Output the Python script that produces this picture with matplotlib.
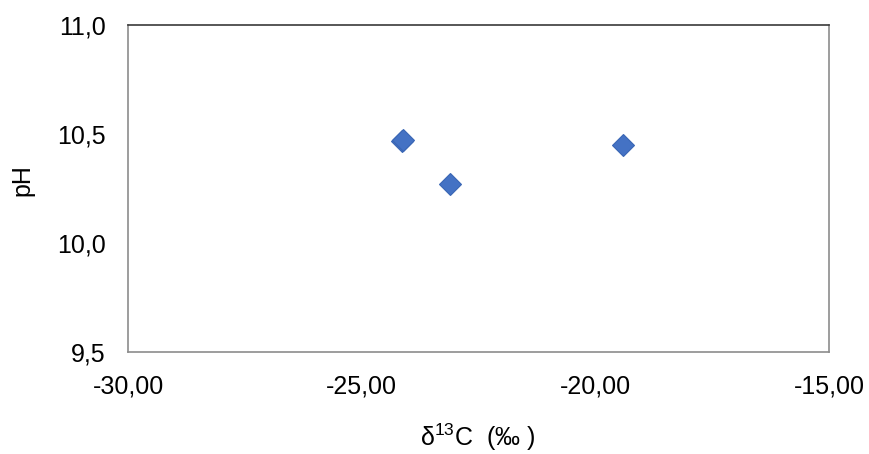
import matplotlib
matplotlib.use("Agg")
import matplotlib.pyplot as plt
from matplotlib.ticker import FixedLocator, FuncFormatter

plt.rcParams['font.family'] = ['Liberation Sans', 'DejaVu Sans']
plt.rcParams['mathtext.fontset'] = 'custom'
plt.rcParams['mathtext.rm'] = 'Liberation Sans'
plt.rcParams['mathtext.it'] = 'Liberation Sans'

# delta 13C (per mil) and pH of the samples
d13c = [-24.14, -24.12, -23.10, -19.40]
ph = [10.470, 10.474, 10.27, 10.45]

x_ticks = [-30, -25, -20, -15]
y_ticks = [9.5, 10.0, 10.5, 11.0]

fig = plt.figure(figsize=(8.69, 4.54), dpi=100)
ax = fig.add_axes([128 / 869, 102 / 454, 701 / 869, 327 / 454])

ax.plot(d13c, ph, linestyle='none', marker='D', markersize=11,
        markerfacecolor='#4472C4', markeredgecolor='#3A66B5', markeredgewidth=0.8)

ax.set_xlim(-30, -15)
ax.set_ylim(9.5, 11.0)
ax.xaxis.set_major_locator(FixedLocator(x_ticks))
ax.yaxis.set_major_locator(FixedLocator(y_ticks))
ax.xaxis.set_major_formatter(FuncFormatter(lambda v, p: f"{v:.2f}".replace('.', ',')))
ax.yaxis.set_major_formatter(FuncFormatter(lambda v, p: f"{v:.1f}".replace('.', ',')))
ax.tick_params(length=0, labelsize=18, colors='black')
ax.tick_params(axis='y', pad=16)
ax.tick_params(axis='x', pad=16)

for side in ['left', 'bottom', 'right']:
    ax.spines[side].set_color('#8c8c8c')
    ax.spines[side].set_linewidth(1.2)
ax.spines['top'].set_color('#3a3a3a')
ax.spines['top'].set_linewidth(1.2)

fig.text(478 / 869, 1 - 437 / 454, r"δ$^{13}$C  (‰ )", ha='center', va='center', fontsize=18)
fig.text(22 / 869, 1 - 180 / 454, "pH", ha='center', va='center', rotation=90, fontsize=18)

fig.savefig("out.png", dpi=100)
